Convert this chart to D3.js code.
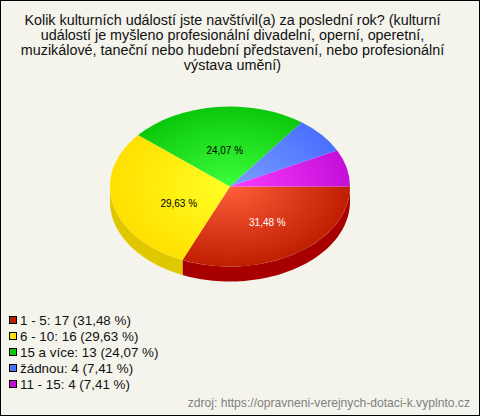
<!DOCTYPE html>
<html>
<head>
<meta charset="utf-8">
<script src="https://cdn.jsdelivr.net/npm/d3@7"></script>
<style>
html, body { margin: 0; padding: 0; background: #f4f4ec; }
svg { display: block; }
text { font-family: "Liberation Sans", Arial, sans-serif; }
</style>
</head>
<body>
<div id="main"></div>
<script>
var categories = ["1 - 5", "6 - 10", "15 a více", "žádnou", "11 - 15"];
var counts = [17, 16, 13, 4, 4];
var percentLabels = ["31,48 %", "29,63 %", "24,07 %", "7,41 %", "7,41 %"];
var titleLines = [
    "Kolik kulturních událostí jste navštívil(a) za poslední rok? (kulturní",
    "událostí je myšleno profesionální divadelní, operní, operetní,",
    "muzikálové, taneční nebo hudební představení, nebo profesionální",
    "výstava umění)"
];
var sourceText = "zdroj: https://opravneni-verejnych-dotaci-k.vyplnto.cz";
var innerColors = ["#ff5f3c", "#ffff24", "#3cff3c", "#7c9eff", "#fa3cff"];
var outerColors = ["#c01e00", "#ffe000", "#0cc80c", "#4a70ff", "#c40fd8"];
var sideColors = ["#a80000", "#e0c800", "#0a9a0a", "#3a58c8", "#9a0aa8"];
var legendColors = ["#c01e00", "#ffe000", "#0cc80c", "#4a70ff", "#c40fd8"];
var labelColors = ["#ffffff", "#000000", "#000000", "#000000", "#000000"];

var ctx = {
    w: 480,
    h: 416,
    cx: 230,
    cy: 186.5,
    rx: 120,
    ry: 80,
    depth: 15
};

var svg = d3.select("#main").append("svg")
    .attr("width", ctx.w)
    .attr("height", ctx.h);

svg.append("rect")
    .attr("x", 0.5).attr("y", 0.5)
    .attr("width", ctx.w - 1).attr("height", ctx.h - 1)
    .attr("fill", "#f4f4ec")
    .attr("stroke", "#000");

// title
svg.append("g").selectAll("text").data(titleLines).enter().append("text")
    .attr("x", 232.5)
    .attr("y", function (d, i) { return 25 + i * 15; })
    .attr("text-anchor", "middle")
    .attr("font-size", 14.35)
    .attr("fill", "#111")
    .text(function (d) { return d; });

// pie, angles run clockwise from 3 o'clock
var pie = d3.pie().sort(null)
    .startAngle(Math.PI / 2)
    .endAngle(Math.PI / 2 + 2 * Math.PI);
var slices = pie(counts);
var arc = d3.arc().innerRadius(0).outerRadius(ctx.rx);

var defs = svg.append("defs");
slices.forEach(function (d, i) {
    var g = defs.append("radialGradient")
        .attr("id", "grad" + i)
        .attr("gradientUnits", "userSpaceOnUse")
        .attr("cx", 0).attr("cy", 0).attr("r", ctx.rx);
    g.append("stop").attr("offset", "0").attr("stop-color", innerColors[i]);
    g.append("stop").attr("offset", "1").attr("stop-color", outerColors[i]);
});

var chart = svg.append("g")
    .attr("transform", "translate(" + ctx.cx + "," + ctx.cy + ")");

// side wall, only where the rim faces the viewer
var wall = d3.area()
    .x(function (a) { return ctx.rx * Math.sin(a); })
    .y0(function (a) { return -ctx.ry * Math.cos(a); })
    .y1(function (a) { return -ctx.ry * Math.cos(a) + ctx.depth; });

chart.append("g").selectAll("path").data(slices).enter().append("path")
    .attr("fill", function (d, i) { return sideColors[i]; })
    .attr("d", function (d) {
        var a0 = Math.max(d.startAngle, Math.PI / 2);
        var a1 = Math.min(d.endAngle, 3 * Math.PI / 2);
        if (a1 <= a0) return null;
        return wall(d3.range(0, 61).map(function (k) {
            return a0 + (a1 - a0) * k / 60;
        }));
    });

chart.append("g")
    .attr("transform", "scale(1," + ctx.ry / ctx.rx + ")")
    .selectAll("path").data(slices).enter().append("path")
    .attr("d", arc)
    .attr("fill", function (d, i) { return "url(#grad" + i + ")"; });

// percent labels, the two small slices have none
var labelNudge = [[4.4, 5.6], [7.1, 10.8], [1.7, 7.2]];
chart.append("g").selectAll("text").data(slices.slice(0, 3)).enter().append("text")
    .attr("x", function (d, i) {
        return 0.5 * ctx.rx * Math.sin((d.startAngle + d.endAngle) / 2) + labelNudge[i][0];
    })
    .attr("y", function (d, i) {
        return -0.5 * ctx.ry * Math.cos((d.startAngle + d.endAngle) / 2) + labelNudge[i][1];
    })
    .attr("text-anchor", "middle")
    .attr("font-size", 10)
    .attr("fill", function (d, i) { return labelColors[i]; })
    .text(function (d, i) { return percentLabels[i]; });

// legend
var legendY = d3.scalePoint().domain(categories).range([321, 385]);
var legend = svg.append("g").selectAll("g").data(categories).enter().append("g")
    .attr("transform", function (d) { return "translate(0," + legendY(d) + ")"; });
legend.append("rect")
    .attr("x", 9.5).attr("y", -4.5)
    .attr("width", 7).attr("height", 7)
    .attr("fill", function (d, i) { return legendColors[i]; })
    .attr("stroke", "#000");
legend.append("text")
    .attr("x", 20).attr("y", 4)
    .attr("font-size", 13.4)
    .attr("fill", "#111")
    .text(function (d, i) { return d + ": " + counts[i] + " (" + percentLabels[i] + ")"; });

// source
svg.append("text")
    .attr("x", 470).attr("y", 407)
    .attr("text-anchor", "end")
    .attr("font-size", 12.13)
    .attr("fill", "#808080")
    .text(sourceText);
</script>
</body>
</html>
